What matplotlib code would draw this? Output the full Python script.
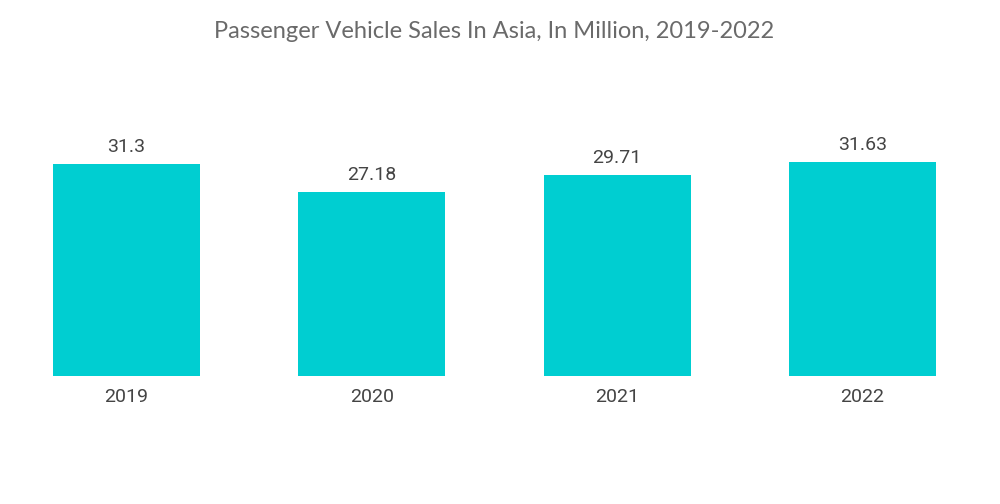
import matplotlib.pyplot as plt

years = ['2019', '2020', '2021', '2022']
sales = [31.3, 27.18, 29.71, 31.63]
value_labels = ['31.3', '27.18', '29.71', '31.63']

fig = plt.figure(figsize=(10, 5.04), dpi=100)
ax = fig.add_axes([0, 0.254, 1, 0.627])

x = range(len(years))
ax.bar(x, sales, width=0.6, color='#00CED1')

for i, (v, lab) in enumerate(zip(sales, value_labels)):
    ax.annotate(lab, (i, v), xytext=(0, 6), textcoords='offset points',
                ha='center', va='bottom', fontsize=14, color='#444444',
                family='Roboto')
    ax.annotate(years[i], (i, 0), xytext=(0, -9), textcoords='offset points',
                ha='center', va='top', fontsize=14, color='#444444',
                family='Roboto')

ax.set_xlim(-0.516, 3.561)
ax.set_ylim(0, 46.68)
ax.axis('off')

fig.text(0.494, 0.938, 'Passenger Vehicle Sales In Asia, In Million, 2019-2022',
         ha='center', va='center', fontsize=17, color='#6a6a6a', family='Lato')

fig.savefig('out.png', dpi=100)
